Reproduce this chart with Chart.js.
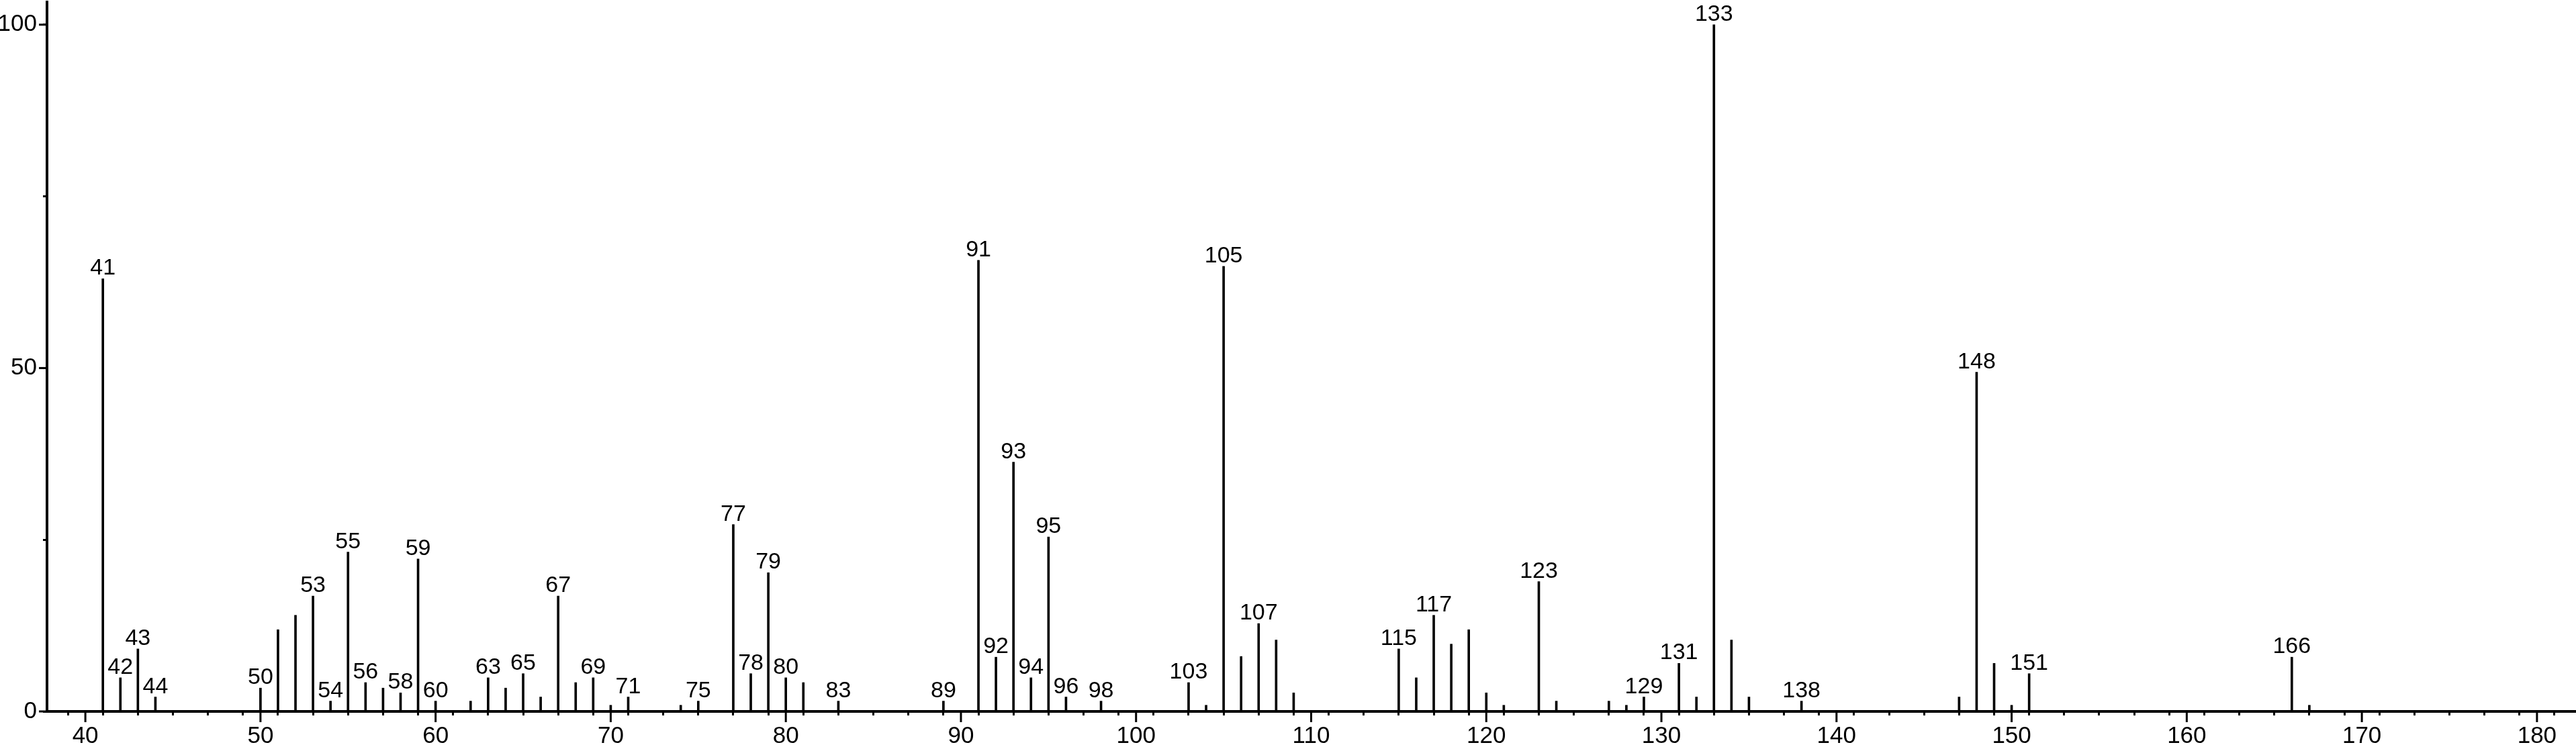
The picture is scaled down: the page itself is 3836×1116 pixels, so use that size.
<!DOCTYPE html>
<html>
<head>
<meta charset="utf-8">
<script src="https://cdn.jsdelivr.net/npm/chart.js@4.4.1/dist/chart.umd.min.js"></script>
<style>
  html, body { margin: 0; padding: 0; background: #fff; }
  canvas { display: block; }
</style>
</head>
<body>
<canvas id="spectrum" width="3836" height="1116"></canvas>
<script>
// m/z values and relative intensities (%)
const mz = [41, 42, 43, 44, 50, 51, 52, 53, 54, 55, 56, 57, 58, 59, 60, 62, 63, 64, 65, 66,
            67, 68, 69, 70, 71, 74, 75, 77, 78, 79, 80, 81, 83, 89, 91, 92, 93, 94, 95, 96,
            98, 103, 104, 105, 106, 107, 108, 109, 115, 116, 117, 118, 119, 120, 121, 123, 124,
            127, 128, 129, 131, 132, 133, 134, 135, 138, 147, 148, 149, 150, 151, 166, 167];
const intensity = [63, 4.9, 9.1, 2.1, 3.4, 11.9, 14.0, 16.8, 1.5, 23.2, 4.2, 3.4, 2.7, 22.2, 1.5, 1.5, 4.9, 3.4, 5.5, 2.1,
                   16.8, 4.2, 4.9, 0.9, 2.1, 0.9, 1.5, 27.2, 5.5, 20.2, 4.9, 4.2, 1.5, 1.5, 65.7, 7.9, 36.3, 4.9, 25.4, 2.1,
                   1.5, 4.2, 0.9, 64.8, 8.0, 12.8, 10.4, 2.7, 9.1, 4.9, 14.0, 9.8, 11.9, 2.7, 0.9, 18.9, 1.5,
                   1.5, 0.9, 2.1, 7.0, 2.1, 100, 10.4, 2.1, 1.5, 2.1, 49.4, 7.0, 0.9, 5.5, 7.9, 0.9];

// peaks that carry a text label
const labeledPeaks = [41, 42, 43, 44, 50, 53, 54, 55, 56, 58, 59, 60, 63, 65, 67, 69, 71, 75, 77, 78,
                      79, 80, 83, 89, 91, 92, 93, 94, 95, 96, 98, 103, 105, 107, 115, 117, 123, 129,
                      131, 133, 138, 148, 151, 166];

const xTickLabels = [40, 50, 60, 70, 80, 90, 100, 110, 120, 130, 140, 150, 160, 170, 180];
const yTickLabels = [0, 50, 100];

Chart.defaults.font.family = '"Liberation Sans", Arial, sans-serif';
Chart.defaults.font.size = 34;
Chart.defaults.color = '#000';

// longer ticks for the labelled values
const majorTicks = {
  id: 'majorTicks',
  afterDraw(chart) {
    const { ctx, chartArea, scales: { x, y } } = chart;
    ctx.save();
    ctx.strokeStyle = '#000';
    ctx.lineWidth = 3;
    x.ticks.forEach(t => {
      if (!xTickLabels.includes(t.value)) return;
      const px = x.getPixelForValue(t.value);
      ctx.beginPath();
      ctx.moveTo(px, chartArea.bottom);
      ctx.lineTo(px, chartArea.bottom + 16);
      ctx.stroke();
    });
    y.ticks.forEach(t => {
      if (!yTickLabels.includes(t.value)) return;
      const py = y.getPixelForValue(t.value);
      ctx.beginPath();
      ctx.moveTo(chartArea.left, py);
      ctx.lineTo(chartArea.left - 12, py);
      ctx.stroke();
    });
    ctx.restore();
  }
};

// m/z text above the labelled peaks
const peakLabels = {
  id: 'peakLabels',
  afterDatasetsDraw(chart) {
    const ctx = chart.ctx;
    const meta = chart.getDatasetMeta(0);
    ctx.save();
    ctx.font = '34px "Liberation Sans", Arial, sans-serif';
    ctx.fillStyle = '#000';
    ctx.textAlign = 'center';
    ctx.textBaseline = 'alphabetic';
    meta.data.forEach((bar, i) => {
      if (!labeledPeaks.includes(mz[i])) return;
      ctx.fillText(String(mz[i]), bar.x, bar.y - 6);
    });
    ctx.restore();
  }
};

new Chart(document.getElementById('spectrum'), {
  type: 'bar',
  data: {
    datasets: [{
      data: mz.map((m, i) => ({ x: m, y: intensity[i] })),
      backgroundColor: '#000',
      borderWidth: 0,
      barThickness: 3
    }]
  },
  options: {
    responsive: false,
    animation: false,
    devicePixelRatio: 1,
    layout: { padding: { top: 3, right: 1, left: 0, bottom: 0 } },
    plugins: {
      legend: { display: false },
      tooltip: { enabled: false }
    },
    scales: {
      x: {
        type: 'linear',
        min: 37.81,
        max: 182.19,
        offset: false,
        grid: { drawOnChartArea: false, tickLength: 6, tickWidth: 3, tickColor: '#000' },
        border: { color: '#000', width: 4 },
        ticks: {
          stepSize: 2,
          includeBounds: false,
          autoSkip: false,
          maxRotation: 0,
          padding: 10,
          font: { size: 35 },
          callback: v => xTickLabels.includes(v) ? String(v) : ''
        },
        afterFit: s => { s.height = 56; s.paddingLeft = 0; s.paddingRight = 0; }
      },
      y: {
        min: 0,
        max: 103.3,
        grid: { drawOnChartArea: false, tickLength: 6, tickWidth: 3, tickColor: '#000' },
        border: { color: '#000', width: 4 },
        ticks: {
          stepSize: 25,
          includeBounds: false,
          autoSkip: false,
          padding: 9,
          font: { size: 35 },
          callback: v => yTickLabels.includes(v) ? String(v) : ''
        },
        afterFit: s => { s.width = 70; s.paddingTop = 0; s.paddingBottom = 0; }
      }
    }
  },
  plugins: [majorTicks, peakLabels]
});
</script>
</body>
</html>
